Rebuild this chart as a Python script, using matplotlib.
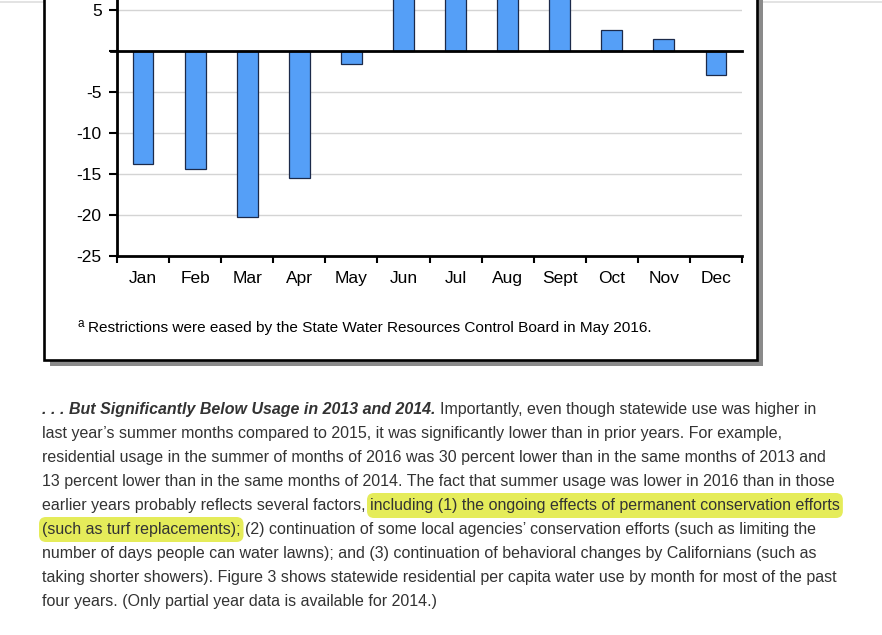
import matplotlib
matplotlib.use("Agg")
import matplotlib.pyplot as plt
import matplotlib.transforms as mtransforms
from matplotlib.patches import Rectangle, FancyBboxPatch
from matplotlib.lines import Line2D
import numpy as np

# ---------------- data ----------------
months = ["Jan", "Feb", "Mar", "Apr", "May", "Jun", "Jul", "Aug", "Sept", "Oct", "Nov", "Dec"]
change = [-13.8, -14.4, -20.3, -15.5, -1.6, 8.0, 8.0, 8.0, 8.0, 2.6, 1.4, -2.9]
ytick_values = [5, 0, -5, -10, -15, -20, -25]
ytick_labels = ["5", "", "-5", "-10", "-15", "-20", "-25"]
footnote = "Restrictions were eased by the State Water Resources Control Board in May 2016."
paragraph = [
    [(". . . But Significantly Below Usage in 2013 and 2014.", "b"),
     ("Importantly, even though statewide use was higher in", "n")],
    [("last year\u2019s summer months compared to 2015, it was significantly lower than in prior years. For example,", "n")],
    [("residential usage in the summer of months of 2016 was 30 percent lower than in the same months of 2013 and", "n")],
    [("13 percent lower than in the same months of 2014. The fact that summer usage was lower in 2016 than in those", "n")],
    [("earlier years probably reflects several factors,", "n"),
     ("including (1) the ongoing effects of permanent conservation efforts", "h")],
    [("(such as turf replacements);", "h"),
     ("(2) continuation of some local agencies\u2019 conservation efforts (such as limiting the", "n")],
    [("number of days people can water lawns); and (3) continuation of behavioral changes by Californians (such as", "n")],
    [("taking shorter showers). Figure 3 shows statewide residential per capita water use by month for most of the past", "n")],
    [("four years. (Only partial year data is available for 2014.)", "n")],
]

W, H = 882, 635
plt.rcParams["font.family"] = ["Liberation Sans", "DejaVu Sans"]
fig = plt.figure(figsize=(W / 100, H / 100), dpi=100)
fig.patch.set_facecolor("white")
ident = mtransforms.IdentityTransform()


def px(x, y):
    return x / W, 1 - y / H


# top faint page line
fig.add_artist(Line2D([0, 1], [1 - 1.5 / H] * 2, transform=fig.transFigure,
                      color="#dedede", lw=1.2, zorder=-5))

# ---------------- chart frame (shadow + box) ----------------
fig.add_artist(Rectangle((50, H - 366), 763 - 50, 366 + 20, transform=ident,
                         facecolor="#8a8a8a", edgecolor="none", zorder=-4))
fig.add_artist(Rectangle((44, H - 360), 757 - 44, 360 + 20, transform=ident,
                         facecolor="white", edgecolor="black", lw=1.9, zorder=-3))

# ---------------- axes ----------------
ax_left, ax_right = 117, 742
ax_top, ax_bottom = 0, 256
ax = fig.add_axes([ax_left / W, 1 - ax_bottom / H, (ax_right - ax_left) / W, (ax_bottom - ax_top) / H])
ax.set_facecolor("none")
x = np.arange(len(months))
ax.bar(x, change, width=0.4, color="#559ff7", edgecolor="#1c2a4a", linewidth=0.9, zorder=3)
ax.set_xlim(-0.5, len(months) - 0.5)
ax.set_ylim(-25, 6.2)
for v in ytick_values:
    if v not in (0, -25):
        ax.axhline(v, color="#d4d4d4", lw=1.0, zorder=1)
ax.axhline(0, color="black", lw=2.0, zorder=4, xmin=-0.01, clip_on=False)
ax.set_yticks(ytick_values)
ax.set_yticklabels(ytick_labels)
ax.set_xticks(x)
ax.set_xticklabels(months)
ax.set_xticks(np.arange(-0.5, len(months)), minor=True)
ax.tick_params(axis="x", which="major", length=0, pad=11, labelsize=12.5)
ax.tick_params(axis="x", which="minor", length=5, width=1.5, direction="out", color="black")
ax.tick_params(axis="y", length=6, width=1.5, direction="out", labelsize=12.5, pad=5)
for s in ["top", "right"]:
    ax.spines[s].set_visible(False)
for s in ["left", "bottom"]:
    ax.spines[s].set_linewidth(2.0)
    ax.spines[s].set_color("black")
    ax.spines[s].set_zorder(5)

# footnote
fig.text(*px(78, 324), "a", fontsize=8.5, va="center", ha="left", color="black")
fig.text(*px(88, 328), footnote, fontsize=11.1, va="center", ha="left", color="black")

# ---------------- paragraph ----------------
renderer = fig.canvas.get_renderer()
para_fs = 11.5
color_txt = "#333333"


def text_width(s, **kw):
    t = fig.text(0, 0, s, fontsize=para_fs, **kw)
    w = t.get_window_extent(renderer).width
    t.remove()
    return w


space_w = text_width("a a") - text_width("aa")
x0 = 42
base0 = 414
line_gap = 24
for i, line in enumerate(paragraph):
    xb = x0
    yb = base0 + i * line_gap
    for j, (seg, kind) in enumerate(line):
        if j > 0:
            xb += space_w
        kw = {}
        if kind == "b":
            kw = dict(fontweight="bold", fontstyle="italic")
        w = text_width(seg, **kw)
        if kind == "h":
            hl = FancyBboxPatch((xb - 3, H - (yb + 8)), w + 6, 25,
                                boxstyle="round,pad=0,rounding_size=7",
                                transform=ident, facecolor="#e5ec5a",
                                edgecolor="none", zorder=-1)
            fig.add_artist(hl)
        fig.text(*px(xb, yb), seg, fontsize=para_fs, va="baseline", ha="left",
                 color=color_txt, **kw)
        xb += w

fig.savefig("out.png", dpi=100)
